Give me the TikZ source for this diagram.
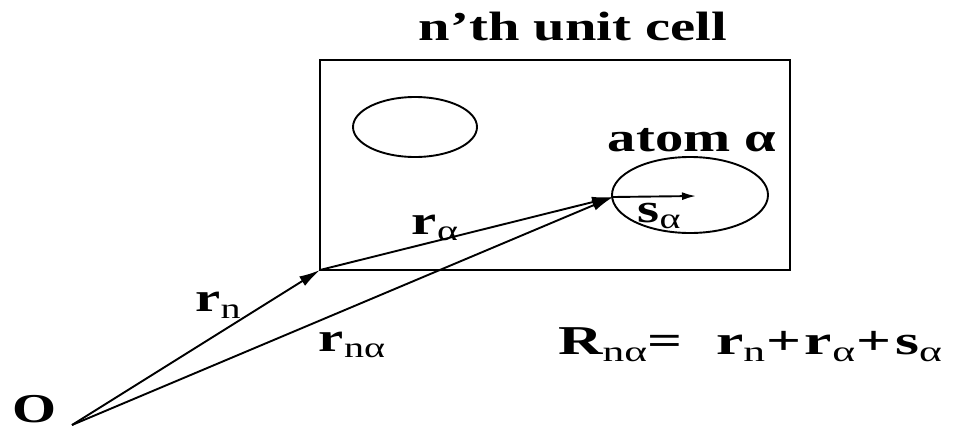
\documentclass[tikz,border=0pt]{standalone}
\usepackage{fontspec}
\setmainfont{Liberation Serif}
\usetikzlibrary{arrows.meta,shapes.geometric}
\newcommand\mysb[1]{\raisebox{-0.35ex}{\fontsize{29}{29}\selectfont\mdseries #1}}
\newcommand\wide[1]{\scalebox{1.38}[1]{#1}}
\newcommand\wider[1]{\scalebox{1.5}[1]{#1}}
\tikzset{
  lbl/.style={inner sep=0pt, font=\fontsize{41}{41}\selectfont\bfseries},
  vec/.style={line width=1.9pt, -{Latex[length=21pt,width=11pt]}},
  cellbox/.style={line width=1.9pt},
  atomshape/.style={ellipse, draw, line width=1.9pt, inner sep=0pt}
}
\begin{document}
\begin{tikzpicture}[x=1pt,y=-1pt]
\useasboundingbox[fill=white] (0,0) rectangle (955,429);
\coordinate (O) at (72,425);
\coordinate (P) at (320,270);
\coordinate (A) at (613,197);
\coordinate (S) at (696,196);
\draw[cellbox] (P) rectangle (790,60);
\node[atomshape, minimum width=124pt, minimum height=60pt] (e1) at (415,127) {};
\node[atomshape, minimum width=156pt, minimum height=76pt] (e2) at (690,195) {};
\node[lbl] (title) at (573,27) {\wide{n’th unit cell}};
\node[lbl] (atom) at (692,140) {\wide{atom α}};
\node[lbl] (Olbl) at (35,409) {\wide{O}};
\draw[vec] (O) -- (P);
\draw[vec] (P) -- (A);
\draw[vec] (O) -- (A);
\draw[line width=1.9pt, -{Latex[length=14pt,width=8pt]}] (A) -- (S);
\node[lbl] (rn) at (218,305) {\wide{r\mysb{n}}};
\node[lbl] (rna) at (352,345) {\wide{r\mysb{nα}}};
\node[lbl] (ra) at (435,228) {\wide{r\mysb{α}}};
\node[lbl] (sa) at (659,216) {\wide{s\mysb{α}}};
\node[lbl, anchor=west] (eq) at (558,345) {\wider{R\mysb{nα}=\hspace{0.55em}r\mysb{n}\hspace{0.03em}+\hspace{0.05em}r\mysb{α}\hspace{0.03em}+\hspace{0.05em}s\mysb{α}}};
\end{tikzpicture}
\end{document}
